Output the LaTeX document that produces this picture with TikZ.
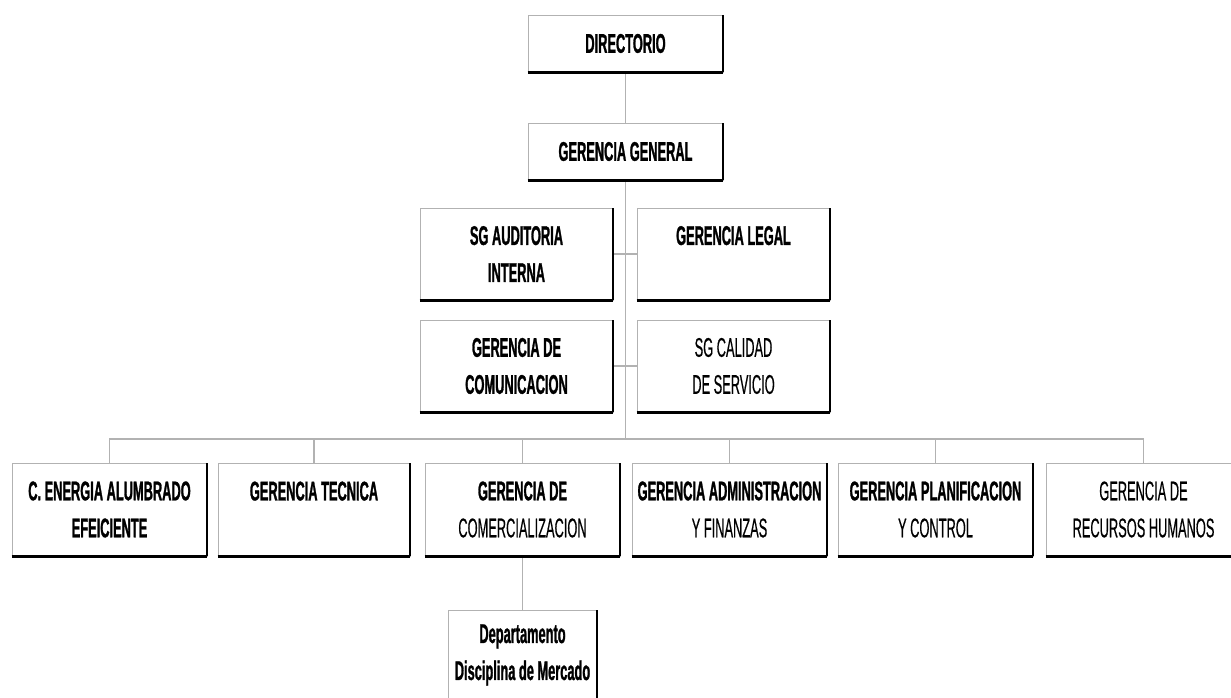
\documentclass[tikz,border=0pt]{standalone}
\usepackage{fontspec}
\newfontfamily\narrowfont[FakeStretch=0.475, FakeBold=0.4, BoldFeatures={FakeBold=1}]{Liberation Sans}
\begin{document}
\begin{tikzpicture}[x=1pt,y=-1pt,
  box/.style={draw=gray!60, line width=0.8pt, fill=white, align=center, inner sep=0pt,
    minimum height=93pt, minimum width=195pt,
    font=\narrowfont\bfseries\fontsize{27}{37}\selectfont},
  conn/.style={draw=gray!60, line width=1.2pt}]
\useasboundingbox (0,0) rectangle (1231,698);
\clip (0,0) rectangle (1231,698);
% top
\node[box, minimum height=57pt] (dir) at (625.5,43.5) {DIRECTORIO};
\node[box, minimum height=57pt] (gg) at (625.5,151.5) {GERENCIA GENERAL};
% staff
\node[box, minimum width=193pt, minimum height=92pt] (aud) at (516.5,254) {SG AUDITORIA\\INTERNA};
\node[box, minimum width=193pt, minimum height=92pt] (leg) at (733.5,254) {GERENCIA LEGAL\\\mbox{}};
\node[box, minimum width=193pt, minimum height=92pt] (com) at (516.5,366) {GERENCIA DE\\COMUNICACION};
\node[box, minimum width=193pt, minimum height=92pt] (cal) at (733.5,366) {\mdseries SG CALIDAD\\\mdseries DE SERVICIO};
% bottom row
\node[box] (b1) at (109.5,509.5) {C. ENERGIA ALUMBRADO\\EFEICIENTE};
\node[box, minimum width=192pt] (b2) at (314,509.5) {GERENCIA TECNICA\\\mbox{}};
\node[box] (b3) at (522.5,509.5) {GERENCIA DE\\\mdseries COMERCIALIZACION};
\node[box] (b4) at (729.5,509.5) {GERENCIA ADMINISTRACION\\\mdseries Y FINANZAS};
\node[box] (b5) at (935.5,509.5) {GERENCIA PLANIFICACION\\\mdseries Y CONTROL};
\node[box] (b6) at (1143.5,509.5) {\mdseries GERENCIA DE\\\mdseries RECURSOS HUMANOS};
% sub
\node[box, minimum width=149pt, minimum height=90pt] (dep) at (522.5,655) {Departamento\\Disciplina de Mercado};
% connectors
\coordinate (bus) at (625.5,439);
\draw[conn] (dir.south) -- (gg.north);
\draw[conn] (gg.south) -- (bus);
\draw[conn] (aud.east) -- (leg.west);
\draw[conn] (com.east) -- (cal.west);
\foreach \n in {b1,b2,b3,b4,b5,b6} \draw[conn] (\n.north) |- (bus);
\draw[conn] (b3.south) -- (dep.north);
% shadows
\foreach \n in {dir,gg,aud,leg,com,cal,b1,b2,b3,b4,b5,b6,dep} {
  \draw[line width=3pt] (\n.south west) -- (\n.south east);
  \draw[line width=2pt] (\n.south east) -- (\n.north east);
}
\end{tikzpicture}
\end{document}
